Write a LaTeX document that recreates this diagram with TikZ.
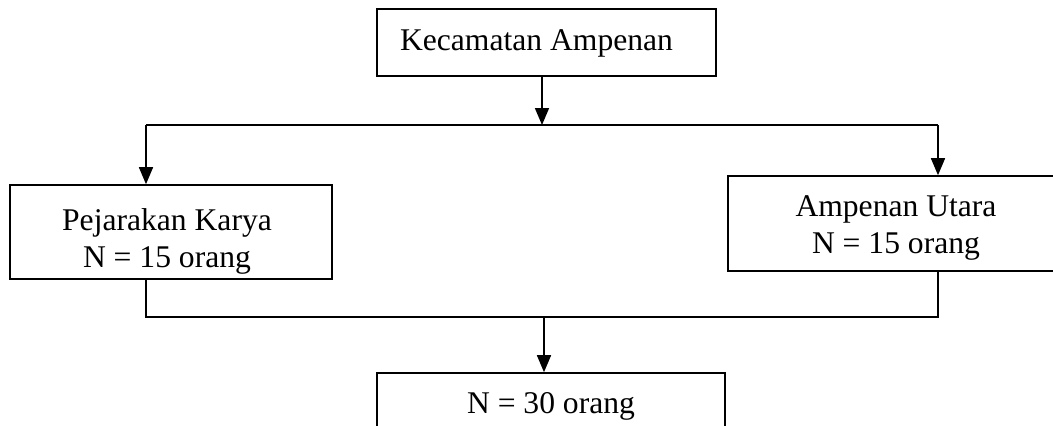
\documentclass[tikz,border=0pt]{standalone}
\usepackage{fontspec}
\setmainfont{Liberation Serif}
\usetikzlibrary{arrows.meta}
\begin{document}
\begin{tikzpicture}[x=1pt,y=-1pt,
  box/.style={draw, line width=1.6pt, rectangle, inner sep=0pt},
  txt/.style={anchor=base, align=center, inner sep=0pt, font=\fontsize{31.6}{36.5}\selectfont},
  conn/.style={line width=1.6pt},
  arr/.style={conn, -{Triangle[length=17pt,width=14pt]}}]
\useasboundingbox (0,0) rectangle (1053,426);
\clip (0,0) rectangle (1053,426);
% boxes
\node[box, minimum width=339pt, minimum height=67pt] (top) at (546.5,42.5) {};
\node[box, minimum width=322pt, minimum height=94pt] (left) at (171,232) {};
\node[box, minimum width=336pt, minimum height=95pt] (right) at (896,223.5) {};
\node[box, minimum width=348pt, minimum height=67pt] (bot) at (551,406.5) {};
% texts
\node[txt] (toptxt) at (536.5,50) {Kecamatan Ampenan};
\node[txt] (lefttxt) at (167,267) {Pejarakan Karya\\N = 15 orang};
\node[txt] (righttxt) at (896,253) {Ampenan Utara\\N = 15 orang};
\node[txt] (bottxt) at (551,413) {N = 30 orang};
% junctions
\coordinate (j1) at (542,125);
\coordinate (jl) at (146,125);
\coordinate (jr) at (938,125);
\coordinate (kl) at (146,317);
\coordinate (kr) at (938,317);
\coordinate (k2) at (544,317);
% connectors
\draw[arr] (j1 |- top.south) -- (j1);
\draw[conn] (jl) -- (jr);
\draw[arr] (jl) -- (jl |- left.north);
\draw[arr] (jr) -- (jr |- right.north);
\draw[conn] (kl |- left.south) -- (kl) -- (kr) -- (kr |- right.south);
\draw[arr] (k2) -- (k2 |- bot.north);
\end{tikzpicture}
\end{document}
